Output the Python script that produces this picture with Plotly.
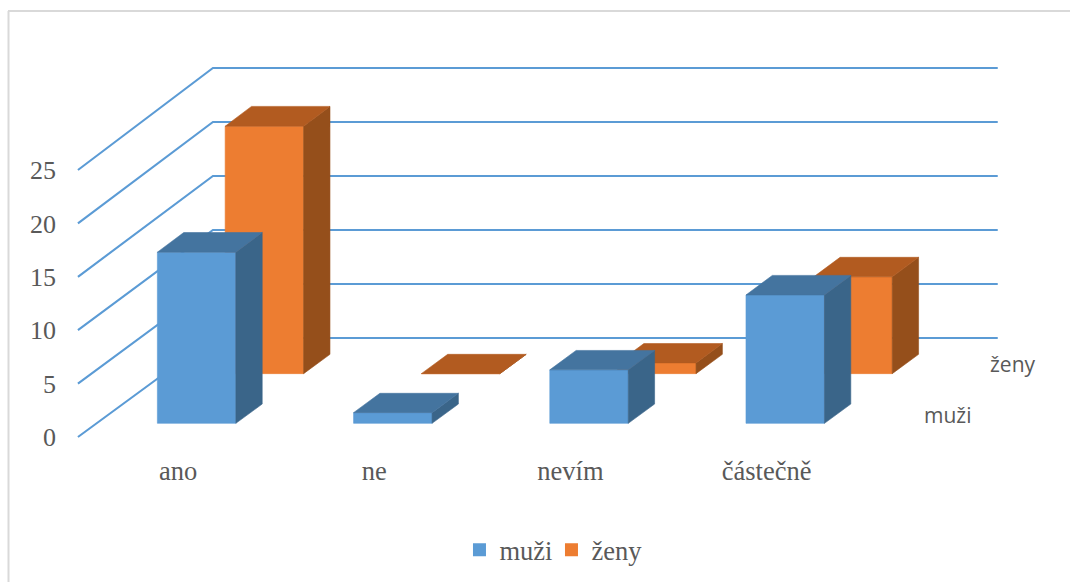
import plotly.graph_objects as go

# ---- data ----
categories = ["ano", "ne", "nevím", "částečně"]
muzi = [16, 1, 5, 12]
zeny = [23, 0, 1, 9]
value_ticks = [0, 5, 10, 15, 20, 25]
series_names = ["muži", "ženy"]

# ---- style ----
TEXT = "#595959"
SERIF = "Liberation Serif"
SANS = "Open Sans"
GRID = "#5B9BD5"
BLUE = dict(front="#5B9BD5", side="#3A6589", top="#44749F")
ORANGE = dict(front="#ED7D31", side="#954F1B", top="#B25B20")

# ---- oblique 3D projection onto the 2D axes ----
PX_CAT = 196.2     # pixels per category
PX_VAL = 10.68     # pixels per value unit
DEPTH_X = 135 / PX_CAT
DEPTH_Y = 99 / PX_VAL
STRETCH = 0.0112   # slight perspective growth towards the back wall
BAR_W = 0.4
BAR_D = 0.195
SERIES_D = [0.138, 0.64]
CAT_LO, CAT_HI = -0.51, 3.49


def proj(c, v, d):
    return c + d * DEPTH_X, v * (1 + STRETCH * d) + d * DEPTH_Y


def poly(points):
    xs, ys = zip(*[proj(*p) for p in points])
    return list(xs) + [xs[0]], list(ys) + [ys[0]]


fig = go.Figure()


def face(points, color):
    x, y = poly(points)
    fig.add_trace(go.Scatter(x=x, y=y, mode="lines", fill="toself", fillcolor=color,
                             line=dict(color=color, width=0.6), hoverinfo="skip",
                             showlegend=False))


# grid on the side wall and back wall
gx, gy = [], []
for v in value_ticks:
    for c, d in [(CAT_LO, 0), (CAT_LO, 1), (CAT_HI, 1)]:
        px, py = proj(c, v, d)
        gx.append(px)
        gy.append(py)
    gx.append(None)
    gy.append(None)
fig.add_trace(go.Scatter(x=gx, y=gy, mode="lines", line=dict(color=GRID, width=2.1),
                         hoverinfo="skip", showlegend=False))


def bars(values, d0, col):
    d1 = d0 + BAR_D
    for i, v in enumerate(values):
        l, r = i - BAR_W / 2, i + BAR_W / 2
        face([(l, 0, d0), (r, 0, d0), (r, v, d0), (l, v, d0)], col["front"])
        face([(r, 0, d0), (r, 0, d1), (r, v, d1), (r, v, d0)], col["side"])
        face([(l, v, d0), (r, v, d0), (r, v, d1), (l, v, d1)], col["top"])


bars(zeny, SERIES_D[1], ORANGE)
bars(muzi, SERIES_D[0], BLUE)

# legend entries
for name, col in zip(series_names, [BLUE, ORANGE]):
    fig.add_trace(go.Scatter(x=[None], y=[None], mode="markers", name=name,
                             marker=dict(symbol="square", size=13, color=col["front"])))

# series labels on the depth axis
for name, cx, vy in zip(series_names, [3.92, 4.256], [2.06, 6.83]):
    fig.add_annotation(x=cx, y=vy, text=name, showarrow=False, xanchor="center",
                       font=dict(family=SANS, size=21, color=TEXT))

W, H = 1070, 582
L, R, T, B = 57, 1060, 20, 450
fig.update_layout(
    width=W, height=H, autosize=False,
    margin=dict(l=L, r=W - R, t=T, b=H - B, pad=0, autoexpand=False),
    paper_bgcolor="white", plot_bgcolor="white",
    font=dict(family=SERIF, color=TEXT, size=26),
    xaxis=dict(range=[(L - 178) / PX_CAT, (R - 178) / PX_CAT], tickmode="array",
               tickvals=list(range(len(categories))), ticktext=categories,
               showgrid=False, zeroline=False, showline=False, ticks="",
               ticklabelstandoff=2,
               tickfont=dict(family=SERIF, size=26.5, color=TEXT)),
    yaxis=dict(range=[(437 - B) / PX_VAL, (437 - T) / PX_VAL], tickmode="array",
               tickvals=value_ticks, showgrid=False, zeroline=False, showline=False,
               ticks="", tickfont=dict(family=SERIF, size=26, color=TEXT)),
    legend=dict(orientation="h", x=0.493, xanchor="center", y=(B - 550) / (B - T), yanchor="middle",
                entrywidth=47, entrywidthmode="pixels",
                font=dict(family=SERIF, size=26.5, color=TEXT), bgcolor="rgba(0,0,0,0)"),
    shapes=[
        dict(type="line", xref="paper", yref="paper", layer="below",
             x0=(8 - L) / (R - L), x1=(W - L) / (R - L),
             y0=(B - 11) / (B - T), y1=(B - 11) / (B - T),
             line=dict(color="#D9D9D9", width=2)),
        dict(type="line", xref="paper", yref="paper", layer="below",
             x0=(8.5 - L) / (R - L), x1=(8.5 - L) / (R - L),
             y0=(B - 11) / (B - T), y1=(B - H) / (B - T),
             line=dict(color="#D9D9D9", width=2)),
    ],
)
fig.write_html("out.html", config=dict(displayModeBar=False),
               post_script="document.body.style.margin='0';")
